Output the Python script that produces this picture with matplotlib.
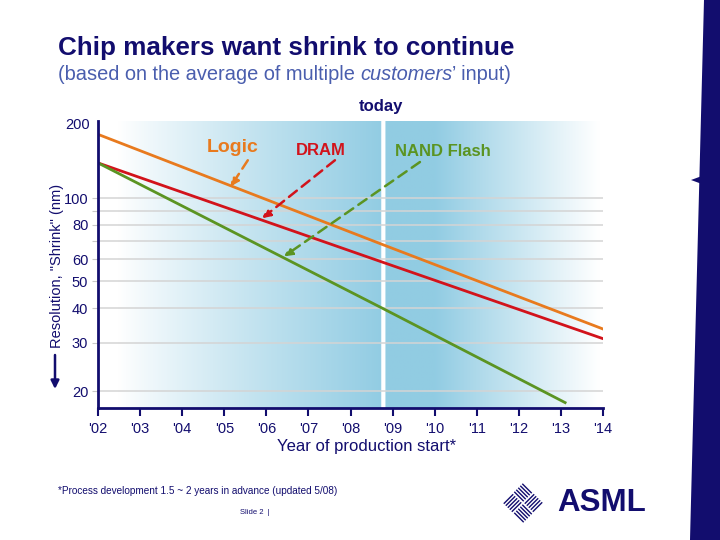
import matplotlib
matplotlib.use('Agg')
import matplotlib.pyplot as plt
import numpy as np
from matplotlib.patches import Polygon

plt.rcParams['font.family'] = ['Liberation Sans', 'DejaVu Sans']

NAVY = '#120D6E'
ORANGE = '#E87A1E'
RED = '#D2131B'
GREEN = '#5B9422'
BLUE = np.array([0.57, 0.80, 0.89])

# data
years = list(range(2002, 2015))
year_labels = ["'02", "'03", "'04", "'05", "'06", "'07", "'08",
               "'09", "'10", "'11", "'12", "'13", "'14"]
logic_years = [2002, 2008.75, 2014]
logic_nm = [170, 68, 33.6]
dram_years = [2002, 2008.75, 2014]
dram_nm = [134, 58.7, 31]
nand_years = [2002, 2008.75, 2013.1]
nand_nm = [134, 40, 18.2]
grid_nm = [20, 30, 40, 50, 60, 70, 80, 90, 100]
grid_labels = ['20', '30', '40', '50', '60', '', '80', '', '100']
today = 2008.78

fig = plt.figure(figsize=(7.2, 5.4), dpi=100)

# pixel overlay for slide decoration
deco = fig.add_axes([0, 0, 1, 1], zorder=0)
deco.set_xlim(0, 720)
deco.set_ylim(540, 0)
deco.axis('off')

ax = fig.add_axes([98 / 720, 1 - 408 / 540, 505 / 720, 287 / 540], zorder=1)
ax.set_facecolor('none')
ax.set_yscale('log')
ax.set_xlim(2002, 2014)
ax.set_ylim(17.4, 190)

# background gradient
xs = np.linspace(2002, 2014, 1200)
alpha = np.zeros_like(xs)
left = xs < today - 0.05
alpha[left] = np.clip((xs[left] - 2002.5) / (today - 2002.5), 0, 1) ** 0.9
right = xs > today + 0.05
alpha[right] = np.clip((2013.9 - xs[right]) / (2013.9 - 2010.0), 0, 1)
img = np.ones((1, len(xs), 3))
img[0] = 1 - alpha[:, None] * (1 - BLUE)
ax.imshow(img, extent=(0, 1, 0, 1), transform=ax.transAxes,
          aspect='auto', zorder=0, interpolation='bilinear')

ax.set_yticks(grid_nm)
ax.set_yticklabels(grid_labels)
ax.yaxis.set_minor_locator(matplotlib.ticker.NullLocator())
ax.grid(axis='y', color='#D4D4D4', lw=1.1, zorder=1)
ax.tick_params(axis='y', length=4, color='#C8C8C8', labelcolor=NAVY,
               labelsize=10.5, pad=3)
ax.set_xticks(years)
ax.set_xticklabels(year_labels)
ax.tick_params(axis='x', length=6, width=1.5, color=NAVY, labelcolor=NAVY,
               labelsize=10.5, pad=4, direction='out')
ax.text(-0.016, 0.985, '200', transform=ax.transAxes, ha='right', va='center',
        color=NAVY, fontsize=10.5)
for s in ['top', 'right']:
    ax.spines[s].set_visible(False)
for s in ['left', 'bottom']:
    ax.spines[s].set_color(NAVY)
    ax.spines[s].set_linewidth(2)
    ax.spines[s].set_zorder(5)

ax.plot(logic_years, logic_nm, color=ORANGE, lw=2, zorder=3)
ax.plot(dram_years, dram_nm, color=RED, lw=2, zorder=3)
ax.plot(nand_years, nand_nm, color=GREEN, lw=2, zorder=3)

# series labels with dashed pointers
ax.text(2005.2, 153, 'Logic', color=ORANGE, fontsize=14, fontweight='bold',
        ha='center', va='center', zorder=4)
ax.text(2007.3, 149, 'DRAM', color=RED, fontsize=12, fontweight='bold',
        ha='center', va='center', zorder=4)
ax.text(2010.2, 147, 'NAND Flash', color=GREEN, fontsize=12, fontweight='bold',
        ha='center', va='center', zorder=4)
pointers = [((2005.56, 137), (2005.15, 110), ORANGE),
            ((2007.63, 137), (2005.9, 84.5), RED),
            ((2009.65, 135), (2006.42, 61.5), GREEN)]
for start, end, c in pointers:
    ax.annotate('', xy=end, xytext=start,
                arrowprops=dict(arrowstyle='-|>', color=c, lw=1.8,
                                linestyle=(0, (4, 2.5)), mutation_scale=12,
                                shrinkA=0, shrinkB=0), zorder=4)

# titles and labels
deco.text(58, 48, 'Chip makers want shrink to continue', color=NAVY,
          fontsize=18.7, fontweight='bold', va='center', ha='left')
renderer = fig.canvas.get_renderer()
sub_color = '#4A5EAE'
x0 = 58
for part, style in [('(based on the average of multiple ', 'normal'),
                    ('customers', 'italic'),
                    ('\u2019 input)', 'normal')]:
    t = deco.text(x0, 75, part, color=sub_color, fontsize=14.4, style=style,
                  va='center', ha='left')
    bb = t.get_window_extent(renderer)
    x0 += bb.width

deco.text(381, 106, 'today', color=NAVY, fontsize=12, fontweight='bold',
          ha='center', va='center')
deco.text(367, 447, 'Year of production start*', color=NAVY, fontsize=12,
          ha='center', va='center')
deco.text(57, 266, 'Resolution, "Shrink" (nm)', color=NAVY, fontsize=10.5,
          rotation=90, ha='center', va='center')
deco.annotate('', xy=(55, 389), xytext=(55, 355),
              arrowprops=dict(arrowstyle='-|>', color=NAVY, lw=1.8,
                              mutation_scale=12, shrinkA=0, shrinkB=0))
deco.text(58, 491, '*Process development 1.5 ~ 2 years in advance (updated 5/08)',
          color=NAVY, fontsize=7.2, ha='left', va='center')
deco.text(240, 513, 'Slide 2  |', color=NAVY, fontsize=5.5, ha='left',
          va='center')

# right-hand bar
deco.add_patch(Polygon([(704, 0), (720, 0), (720, 540), (690, 540)],
                       closed=True, color=NAVY, lw=0))
deco.add_patch(Polygon([(691, 180), (706, 174.5), (706, 185.5)],
                       closed=True, color=NAVY, lw=0))

# ASML logo
cx, cy, h = 523, 503, 10.5
e1 = np.array([1, 1]) / np.sqrt(2)
e2 = np.array([1, -1]) / np.sqrt(2)
side = h * np.sqrt(2) - 1.5
for (dx, dy), d, n in [((0, -h), e1, e2), ((0, h), e1, e2),
                       ((-h, 0), e2, e1), ((h, 0), e2, e1)]:
    c = np.array([cx + dx, cy + dy])
    for v in np.linspace(-side / 2 + 1, side / 2 - 1, 5):
        p0 = c + n * v - d * side / 2
        p1 = c + n * v + d * side / 2
        deco.plot([p0[0], p1[0]], [p0[1], p1[1]], color=NAVY, lw=1.0,
                  solid_capstyle='butt')
deco.text(557, 503, 'ASML', color=NAVY, fontsize=22.5, fontweight='bold',
          ha='left', va='center')

fig.savefig('out.png', dpi=100)
